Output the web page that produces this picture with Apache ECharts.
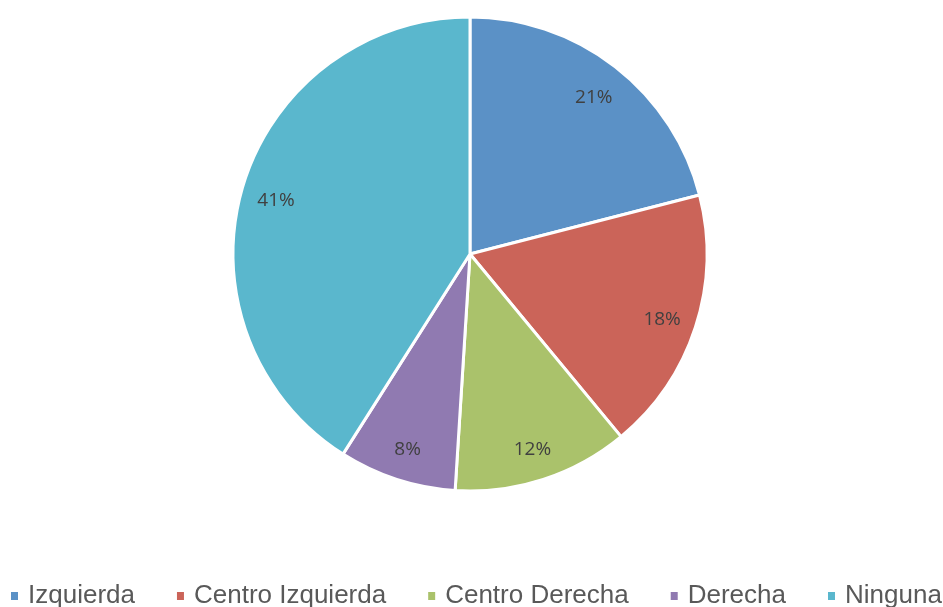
<!DOCTYPE html>
<html>
<head>
<meta charset="utf-8">
<script src="https://cdn.jsdelivr.net/npm/echarts@6/dist/echarts.min.js"></script>
<style>html,body{margin:0;padding:0;background:#fff}#c{width:943px;height:607px}</style>
</head>
<body>
<div id="c"></div>
<script>
const categories = ['Izquierda', 'Centro Izquierda', 'Centro Derecha', 'Derecha', 'Ninguna'];
const values = [21, 18, 12, 8, 41];
const colors = ['#5B91C6', '#CB6459', '#AAC26B', '#907AB1', '#5AB7CD'];

const data = categories.map((n, i) => ({ name: n, value: values[i], itemStyle: { color: colors[i] } }));
const labelData = categories.map((n, i) => ({ name: n, value: values[i] }));

const chart = echarts.init(document.getElementById('c'));
chart.setOption({
  animation: false,
  backgroundColor: '#fff',
  legend: {
    top: 583,
    left: 9,
    width: 934,
    padding: 0,
    icon: 'rect',
    itemWidth: 9,
    itemHeight: 10,
    itemGap: 40,
    textStyle: { fontFamily: '"Liberation Sans", Arial, sans-serif', fontSize: 26, color: '#595959', padding: [0, 0, 0, 4] },
    data: categories
  },
  series: [
    {
      type: 'pie',
      center: [470, 254],
      radius: [0, 237],
      startAngle: 90,
      clockwise: true,
      silent: true,
      label: { show: false },
      labelLine: { show: false },
      itemStyle: { borderColor: '#fff', borderWidth: 3 },
      data: data
    },
    {
      type: 'pie',
      center: [470, 254],
      radius: [161, 237],
      startAngle: 90,
      clockwise: true,
      silent: true,
      legendHoverLink: false,
      itemStyle: { color: 'rgba(0,0,0,0)' },
      label: {
        show: true,
        position: 'inside',
        offset: [0, 3],
        formatter: p => p.value + '%',
        fontFamily: '"Open Sans", "Noto Sans", sans-serif',
        fontSize: 19,
        color: '#404040'
      },
      labelLine: { show: false },
      data: labelData
    }
  ]
});
</script>
</body>
</html>
